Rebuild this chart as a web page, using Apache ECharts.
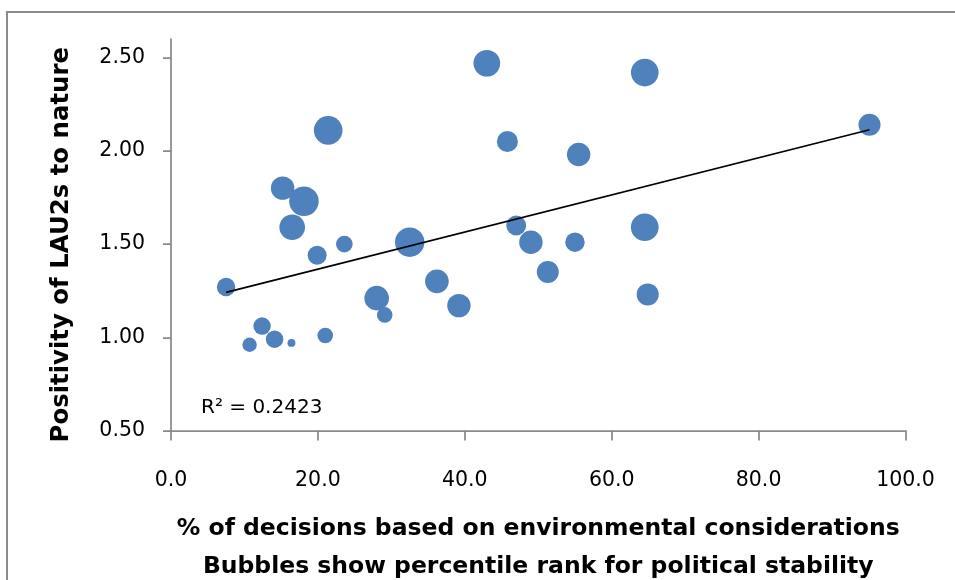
<!DOCTYPE html>
<html>
<head>
<meta charset="utf-8">
<title>Positivity of LAU2s to nature</title>
<script src="https://cdn.jsdelivr.net/npm/echarts@6/dist/echarts.min.js"></script>
<style>
  html, body { margin: 0; padding: 0; background: #ffffff; }
  #chart { width: 955px; height: 580px; }
</style>
</head>
<body>
<div id="chart"></div>
<script>
// % of decisions based on environmental considerations (x)
const decisionsPct = [43.0, 21.4, 45.8, 15.2, 18.1, 16.5, 47.0, 49.0, 32.5, 23.6,
                      19.9, 64.5, 95.1, 55.5, 64.5, 55.0, 7.5, 12.4, 14.1, 10.7,
                      16.4, 21.0, 28.0, 29.1, 36.2, 39.2, 51.3, 64.9];
// Positivity of LAU2s to nature (y)
const positivity = [2.47, 2.11, 2.05, 1.80, 1.73, 1.59, 1.60, 1.51, 1.51, 1.50,
                    1.44, 2.42, 2.14, 1.98, 1.59, 1.51, 1.27, 1.06, 0.99, 0.96,
                    0.97, 1.01, 1.21, 1.12, 1.30, 1.17, 1.35, 1.23];
// Percentile rank for political stability (bubble size)
const stabilityRank = [79, 91, 49, 61, 97, 73, 44, 61, 96, 31,
                       40, 85, 54, 61, 85, 42, 38, 34, 34, 23,
                       7, 27, 67, 27, 62, 61, 54, 54];

const yTicks = [0.5, 1.0, 1.5, 2.0, 2.5];
const xTicks = [0, 20, 40, 60, 80, 100];
const r2Text = 'R\u00B2 = 0.2423';

// Least-squares linear trendline through the bubbles
function linearFit(xs, ys) {
  const n = xs.length;
  const mx = xs.reduce((a, b) => a + b, 0) / n;
  const my = ys.reduce((a, b) => a + b, 0) / n;
  let sxy = 0, sxx = 0;
  for (let i = 0; i < n; i++) {
    sxy += (xs[i] - mx) * (ys[i] - my);
    sxx += (xs[i] - mx) * (xs[i] - mx);
  }
  const slope = sxy / sxx;
  return { slope: slope, intercept: my - slope * mx };
}
const fit = linearFit(decisionsPct, positivity);
const xMin = Math.min.apply(null, decisionsPct);
const xMax = Math.max.apply(null, decisionsPct);
const trendData = [xMin, xMax].map(x => [x, fit.intercept + fit.slope * x]);

const bubbles = decisionsPct.map((x, i) => [x, positivity[i], stabilityRank[i]]);

const FONT = 'DejaVu Sans';
const AXIS_GREY = '#8a8a8a';

const chart = echarts.init(document.getElementById('chart'), null, { renderer: 'canvas' });
chart.setOption({
  animation: false,
  backgroundColor: '#ffffff',
  textStyle: { fontFamily: FONT },
  grid: { left: 171, right: 49.5, top: 39, bottom: 149.5, containLabel: false, outerBoundsMode: 'none' },
  xAxis: {
    type: 'value',
    min: 0, max: 100, interval: 20,
    splitLine: { show: false },
    axisLine: { show: true, lineStyle: { color: AXIS_GREY, width: 1.75 } },
    axisTick: { show: true, length: 10, customValues: xTicks, lineStyle: { color: AXIS_GREY, width: 1.75 } },
    axisLabel: {
      customValues: xTicks,
      formatter: v => Number(v).toFixed(1),
      color: '#000', fontFamily: FONT, fontSize: 20.5, margin: 40
    },
    name: '% of decisions based on environmental considerations\nBubbles show percentile rank for political stability',
    nameLocation: 'middle',
    nameGap: 79,
    nameTextStyle: { color: '#000', fontFamily: FONT, fontWeight: 'bold', fontSize: 23.5, lineHeight: 38 }
  },
  yAxis: {
    type: 'value',
    min: 0.5, max: 2.6, interval: 0.5,
    splitLine: { show: false },
    axisLine: { show: true, lineStyle: { color: AXIS_GREY, width: 1.75 } },
    axisTick: { show: true, length: 8, customValues: yTicks, lineStyle: { color: AXIS_GREY, width: 1.75 } },
    axisLabel: {
      customValues: yTicks,
      formatter: v => Number(v).toFixed(2),
      color: '#000', fontFamily: FONT, fontSize: 20.5, margin: 26
    },
    name: 'Positivity of LAU2s to nature',
    nameLocation: 'middle',
    nameRotate: 90,
    nameGap: 97,
    nameTextStyle: { color: '#000', fontFamily: FONT, fontWeight: 'bold', fontSize: 24.4, padding: [0, 20, 0, 0] }
  },
  series: [
    {
      name: 'Bubbles',
      type: 'scatter',
      data: bubbles,
      symbol: 'circle',
      symbolSize: d => 3 * Math.sqrt(d[2]),
      itemStyle: { color: '#4F81BD', opacity: 1 },
      z: 2,
      silent: true
    },
    {
      name: 'Linear trend',
      type: 'line',
      data: trendData,
      symbol: 'none',
      lineStyle: { color: '#000000', width: 1.75 },
      z: 3,
      silent: true
    }
  ],
  graphic: [
    {
      type: 'rect',
      shape: { x: 7, y: 12, width: 1000, height: 1000 },
      style: { fill: 'none', stroke: '#8c8c8c', lineWidth: 2 },
      silent: true
    },
    {
      type: 'text',
      left: 201, top: 398,
      style: { text: r2Text, fill: '#000', font: '20px "' + FONT + '"' },
      silent: true
    }
  ]
});
</script>
</body>
</html>
